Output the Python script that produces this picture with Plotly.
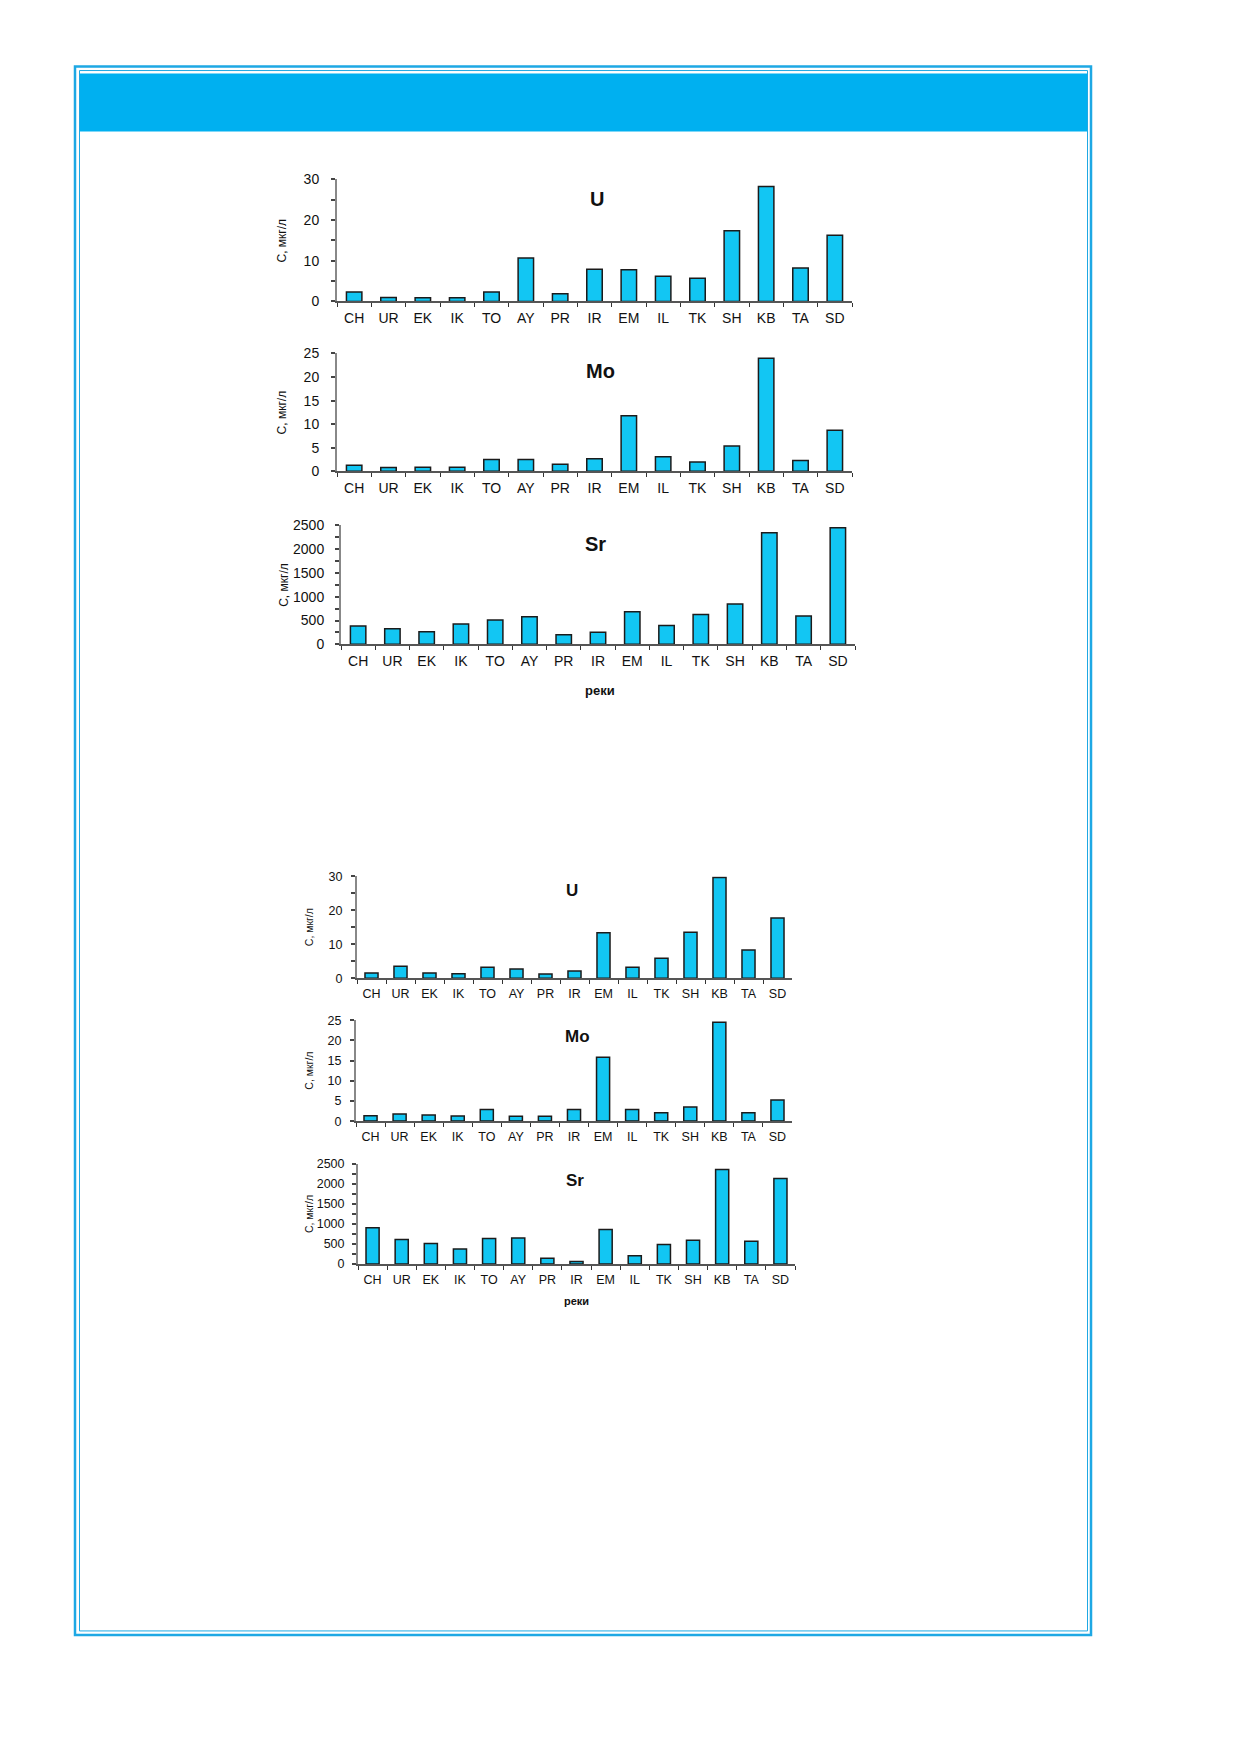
import plotly.graph_objects as go

PAGE_W, PAGE_H = 1240, 1754
OFF = 8  # page body margin around the plot div
W, H = PAGE_W - 2 * OFF, PAGE_H - 2 * OFF

rivers = ["CH", "UR", "EK", "IK", "TO", "AY", "PR", "IR", "EM", "IL", "TK", "SH", "KB", "TA", "SD"]

# first set of rivers (upper block)
u_1 = [2.3, 1.0, 0.9, 0.9, 2.3, 10.7, 1.9, 7.9, 7.8, 6.2, 5.7, 17.4, 28.3, 8.2, 16.3]
mo_1 = [1.3, 0.8, 0.85, 0.85, 2.5, 2.5, 1.5, 2.7, 11.8, 3.1, 2.0, 5.4, 24.0, 2.3, 8.7]
sr_1 = [384, 328, 265, 426, 510, 580, 203, 251, 684, 398, 628, 845, 2346, 594, 2451]

# second set (lower block)
u_2 = [1.5, 3.5, 1.5, 1.3, 3.2, 2.7, 1.2, 2.1, 13.4, 3.2, 5.9, 13.5, 29.6, 8.3, 17.7]
mo_2 = [1.3, 1.75, 1.5, 1.25, 2.9, 1.2, 1.2, 2.9, 15.8, 2.9, 2.1, 3.5, 24.5, 2.1, 5.2]
sr_2 = [906, 612, 512, 378, 638, 654, 143, 67, 864, 210, 487, 596, 2366, 570, 2139]

y_title = "С, мкг/л"
x_title = "реки"

BAR = "#12c6f3"
FRAME = "#1ea8e4"
HEADER = "#00b0f0"
FONT = "Arial, Liberation Sans, sans-serif"


def px_x(v):
    return (v - OFF) / W


def px_y(v):
    # small vertical calibration so the page lines up with the scan
    v = 852 + (v - 852) * 1.0089
    return 1 - (v - OFF) / H


# page pixels: x0, x1, y_top, y_bottom; values; y max, major/minor step;
# tick font, title font, title, title centre (x, y), y-title x, x/y label standoff
panels = [
    (337, 852, 179, 301, u_1, 30, 10, 5, 14, 20, "U", 597, 199, 282, 3, 9),
    (337, 852, 353, 471, mo_1, 25, 5, None, 14, 20, "Mo", 600, 371, 282, 3, 9),
    (341, 855, 525, 644, sr_1, 2500, 500, 250, 14, 20, "Sr", 595, 544, 284, 3, 8),
    (357, 792, 876, 978, u_2, 30, 10, 5, 12.5, 17, "U", 572, 890, 309, 3, 6),
    (356, 792, 1020, 1121, mo_2, 25, 5, None, 12.5, 17, "Mo", 577, 1036, 309, 3, 6),
    (358, 795, 1164, 1264, sr_2, 2500, 500, 250, 12.5, 17, "Sr", 575, 1180, 309, 3, 5),
]

fig = go.Figure()
annotations = []
layout = {}

for i, p in enumerate(panels, start=1):
    x0, x1, yt, yb, vals, ymax, dt, mdt, fs, tfs, name, tx, ty, ytx, xst, yst = p
    sfx = "" if i == 1 else str(i)
    fig.add_trace(
        go.Bar(
            x=rivers,
            y=vals,
            xaxis="x" + sfx,
            yaxis="y" + sfx,
            marker=dict(color=BAR, line=dict(color="#1b1b1b", width=1.5)),
            showlegend=False,
        )
    )
    layout["xaxis" + sfx] = dict(
        domain=[px_x(x0), px_x(x1)],
        anchor="y" + sfx,
        type="category",
        tickson="boundaries",
        ticks="outside",
        ticklen=4,
        tickcolor="#333",
        showline=True,
        linecolor="#555",
        linewidth=1.5,
        showgrid=False,
        ticklabelstandoff=xst,
        tickfont=dict(family=FONT, size=fs, color="#111"),
        fixedrange=True,
    )
    yaxis = dict(
        domain=[px_y(yb), px_y(yt)],
        anchor="x" + sfx,
        range=[0, ymax],
        dtick=dt,
        tick0=0,
        ticks="outside",
        ticklen=4,
        tickwidth=2,
        tickcolor="#444",
        showline=True,
        linecolor="#888",
        linewidth=2,
        showgrid=False,
        zeroline=False,
        ticklabelstandoff=yst,
        tickfont=dict(family=FONT, size=fs, color="#111"),
    )
    if mdt:
        yaxis["minor"] = dict(dtick=mdt, ticks="outside", ticklen=4, tickwidth=2,
                              tickcolor="#444", showgrid=False)
    layout["yaxis" + sfx] = yaxis

    # element name inside the panel
    annotations.append(
        dict(text="<b>%s</b>" % name, x=px_x(tx), y=px_y(ty), xref="paper", yref="paper",
             xanchor="center", yanchor="middle", showarrow=False,
             font=dict(family=FONT, size=tfs, color="#111"))
    )
    # rotated y title
    annotations.append(
        dict(text=y_title, x=px_x(ytx), y=px_y((yt + yb) / 2), xref="paper", yref="paper",
             xanchor="center", yanchor="middle", showarrow=False, textangle=-90,
             font=dict(family=FONT, size=fs - 2, color="#111"))
    )

annotations.append(
    dict(text="<b>%s</b>" % x_title, x=px_x(600), y=px_y(690), xref="paper", yref="paper",
         xanchor="center", yanchor="middle", showarrow=False,
         font=dict(family=FONT, size=13, color="#111"))
)
annotations.append(
    dict(text="<b>%s</b>" % x_title, x=px_x(576), y=px_y(1301), xref="paper", yref="paper",
         xanchor="center", yanchor="middle", showarrow=False,
         font=dict(family=FONT, size=11, color="#111"))
)

shapes = [
    # outer and inner frame lines
    dict(type="rect", xref="paper", yref="paper", x0=px_x(75), x1=px_x(1091), y0=px_y(66), y1=px_y(1635),
         line=dict(color=FRAME, width=2.5)),
    dict(type="rect", xref="paper", yref="paper", x0=px_x(79.5), x1=px_x(1087.5), y0=px_y(70), y1=px_y(1631),
         line=dict(color=FRAME, width=1)),
    # header band
    dict(type="rect", xref="paper", yref="paper", x0=px_x(80), x1=px_x(1087), y0=px_y(73), y1=px_y(131),
         fillcolor=HEADER, line=dict(width=0), layer="below"),
]

fig.update_layout(
    width=W,
    height=H,
    margin=dict(l=0, r=0, t=0, b=0),
    paper_bgcolor="white",
    plot_bgcolor="rgba(0,0,0,0)",
    bargap=0.55,
    annotations=annotations,
    shapes=shapes,
    **layout,
)

fig.write_html("out.html")
